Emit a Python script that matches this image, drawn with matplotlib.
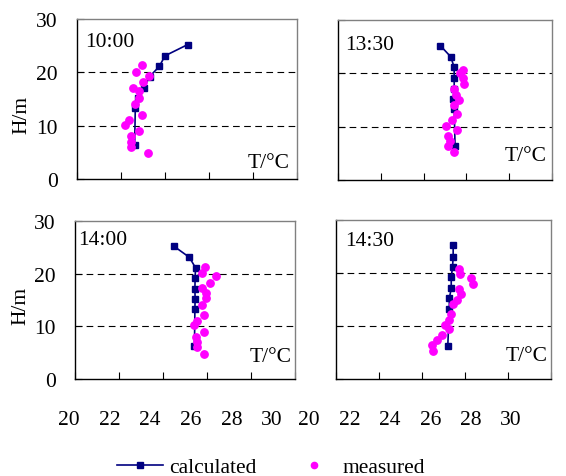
import matplotlib
matplotlib.use("Agg")
import matplotlib.pyplot as plt
from matplotlib.lines import Line2D

plt.rcParams['font.family'] = ['Liberation Serif', 'DejaVu Serif']
FS = 15.5

# ---------------- data ----------------
panel_labels = ["10:00", "13:30", "14:00", "14:30"]
x_ticks = [20, 22, 24, 26, 28, 30]
y_ticks = [0, 10, 20, 30]
grid_levels = [10, 20]

calc_H = [6.3, 13.3, 15.2, 17.1, 19.2, 21.1, 23.1, 25.2]
calc_T_1000 = [22.62, 22.65, 22.75, 23.03, 23.30, 23.74, 24.00, 25.03]
calc_T_1330 = [25.47, 25.43, 25.38, 25.43, 25.43, 25.43, 25.27, 24.78]
calc_T_1400 = [25.43, 25.45, 25.46, 25.45, 25.46, 25.48, 25.20, 24.50]
calc_T_1430 = [25.20, 25.27, 25.27, 25.36, 25.36, 25.42, 25.45, 25.45]

meas_T_1000 = [22.94, 22.66, 23.29, 23.01, 22.56, 22.83, 22.83, 22.65, 22.94, 22.38, 22.18, 22.83, 22.47, 22.47, 22.47, 23.21]
meas_H_1000 = [21.3, 20.1, 19.3, 18.2, 17.1, 16.5, 15.1, 14.0, 12.0, 11.1, 10.2, 9.05, 8.0, 7.0, 6.0, 4.8]
meas_T_1330 = [25.82, 25.69, 25.82, 25.90, 25.43, 25.51, 25.65, 25.43, 25.54, 25.33, 25.04, 25.54, 25.14, 25.22, 25.14, 25.43]
meas_H_1330 = [20.7, 20.1, 19.1, 18.0, 17.0, 16.0, 15.0, 14.1, 12.3, 11.3, 10.1, 9.3, 8.3, 7.3, 6.4, 5.3]
meas_T_1400 = [25.92, 25.77, 26.39, 26.15, 25.77, 25.96, 25.96, 25.77, 25.86, 25.54, 25.39, 25.86, 25.48, 25.55, 25.55, 25.86]
meas_H_1400 = [21.3, 20.2, 19.5, 18.3, 17.2, 16.4, 15.3, 14.1, 12.1, 11.1, 10.25, 9.0, 8.0, 7.0, 6.1, 4.8]
meas_T_1430 = [25.73, 25.76, 26.30, 26.37, 25.73, 25.83, 25.65, 25.46, 25.37, 25.27, 25.07, 25.27, 24.91, 24.68, 24.45, 24.53]
meas_H_1430 = [20.7, 19.9, 19.0, 17.9, 17.0, 16.1, 15.0, 14.1, 12.2, 11.2, 10.2, 9.4, 8.3, 7.3, 6.5, 5.2]

calc_T = [calc_T_1000, calc_T_1330, calc_T_1400, calc_T_1430]
meas_T = [meas_T_1000, meas_T_1330, meas_T_1400, meas_T_1430]
meas_H = [meas_H_1000, meas_H_1330, meas_H_1400, meas_H_1430]

# ---------------- layout (pixels) ----------------
W, H = 566, 477
boxes = [(77, 20, 297, 180), (338, 21, 552, 181), (75, 222, 295, 380), (336, 221, 551, 380)]
label_pos = [(0.036, 0.86), (0.033, 0.85), (0.014, 0.886), (0.042, 0.87)]
unit_pos = [(0.968, 0.10), (0.977, 0.156), (0.986, 0.14), (0.986, 0.145)]

NAVY = '#000080'
MAG = '#FF00FF'

fig = plt.figure(figsize=(W / 100, H / 100), dpi=100)

for i, (l, t, r, b) in enumerate(boxes):
    ax = fig.add_axes([l / W, 1 - b / H, (r - l) / W, (b - t) / H])
    ax.set_xlim(20, 30)
    ax.set_ylim(0, 30)
    for lev in grid_levels:
        ax.axhline(lev, color='black', lw=0.8, ls=(0, (6, 4)), zorder=1)
    ax.plot(calc_T[i], calc_H, color=NAVY, lw=1.2, marker='s', ms=4.4,
            mfc=NAVY, mec=NAVY, zorder=3)
    ax.plot(meas_T[i], meas_H[i], ls='none', marker='o', ms=5.3,
            mfc=MAG, mec=MAG, zorder=4)
    ax.set_xticks(x_ticks)
    ax.set_yticks(y_ticks)
    ax.tick_params(axis='x', direction='in', length=5, width=0.8, labelbottom=False)
    ax.tick_params(axis='y', direction='in', length=5, width=0.8, pad=14,
                   labelsize=FS, labelleft=(i % 2 == 0))
    for s in ['left', 'bottom']:
        ax.spines[s].set_color('black')
        ax.spines[s].set_linewidth(1.0)
    for s in ['top', 'right']:
        ax.spines[s].set_color('#808080')
        ax.spines[s].set_linewidth(1.0)
    ax.text(label_pos[i][0], label_pos[i][1], panel_labels[i], transform=ax.transAxes,
            ha='left', va='center', fontsize=FS)
    ax.text(unit_pos[i][0], unit_pos[i][1], 'T/°C', transform=ax.transAxes,
            ha='right', va='center', fontsize=FS)

# y axis titles
fig.text(22 / W, 1 - 115 / H, 'H/m', rotation=90, ha='center', va='center', fontsize=FS)
fig.text(21 / W, 1 - 306 / H, 'H/m', rotation=90, ha='center', va='center', fontsize=FS)

# x tick label rows under the bottom panels
for (x0, x1) in [(69, 272), (309, 511)]:
    axl = fig.add_axes([x0 / W, 1 - 408 / H, (x1 - x0) / W, 0.0001])
    axl.set_xlim(20, 30)
    axl.set_xticks(x_ticks)
    axl.set_yticks([])
    axl.tick_params(axis='x', length=0, pad=2, labelsize=FS)
    for s in axl.spines.values():
        s.set_visible(False)
    axl.patch.set_visible(False)

handles = [
    Line2D([], [], color=NAVY, lw=1.2, marker='s', ms=4.4, mfc=NAVY, mec=NAVY),
    Line2D([], [], ls='none', marker='o', ms=4.5, mfc=MAG, mec=MAG),
]
fig.legend(handles, ['calculated', 'measured'], loc='center',
           bbox_to_anchor=(271 / W, 1 - 468 / H), ncol=2, frameon=False,
           fontsize=FS, handlelength=2.14, handletextpad=0.25, columnspacing=1.6,
           borderpad=0.2)

fig.savefig('out.png', dpi=100)
